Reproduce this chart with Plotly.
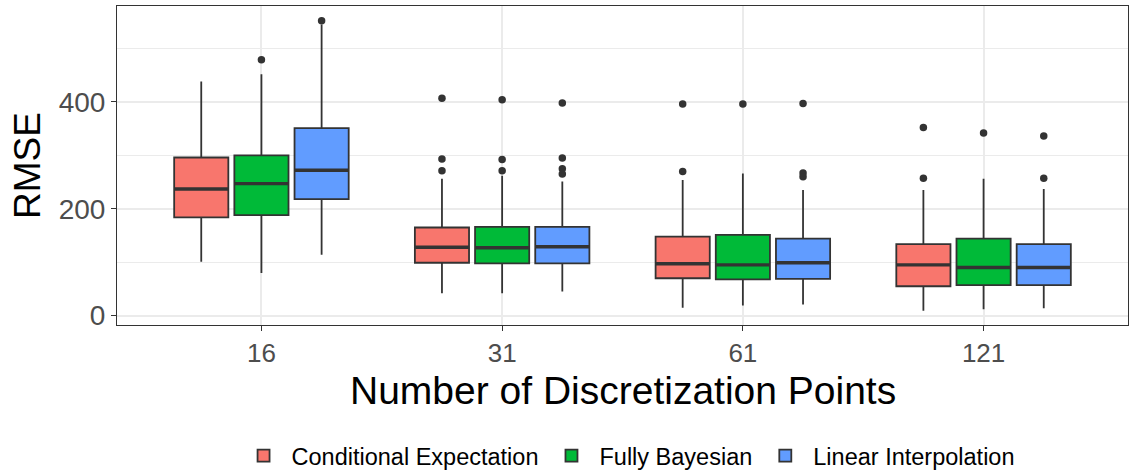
import plotly.graph_objects as go

# Number of discretization points (x categories)
categories = ["16", "31", "61", "121"]
methods = ["Conditional Expectation", "Fully Bayesian", "Linear Interpolation"]
colors = ["#F8766D", "#00BA38", "#619CFF"]
x_title = "Number of Discretization Points"
y_title = "RMSE"

# Box statistics per method, one entry per category
ce_low = [101, 42, 15, 9]
ce_q1 = [184, 99, 70, 55]
ce_med = [237, 128, 97, 95]
ce_q3 = [296, 165, 148, 134]
ce_high = [438, 256, 254, 235]
ce_out = [[], [407, 293, 271], [396, 270], [352, 257]]

fb_low = [80, 42, 19, 12]
fb_q1 = [188, 98, 68, 57]
fb_med = [247, 127, 95, 90]
fb_q3 = [300, 166, 151, 144]
fb_high = [452, 262, 266, 256]
fb_out = [[479], [404, 292, 271], [396], [342]]

li_low = [114, 45, 21, 14]
li_q1 = [218, 98, 69, 57]
li_med = [272, 129, 99, 90]
li_q3 = [351, 166, 144, 134]
li_high = [545, 251, 235, 237]
li_out = [[552], [398, 295, 275, 265], [397, 267, 260], [336, 257]]

stats = [
    (ce_low, ce_q1, ce_med, ce_q3, ce_high, ce_out),
    (fb_low, fb_q1, fb_med, fb_q3, fb_high, fb_out),
    (li_low, li_q1, li_med, li_q3, li_high, li_out),
]

dodge = 0.25
box_w = 0.225
edge = "#333333"

fig = go.Figure()
for k, (name, col, st) in enumerate(zip(methods, colors, stats)):
    low, q1, med, q3, high, out = st
    pos = [i + (k - 1) * dodge for i in range(len(categories))]
    fig.add_trace(go.Box(
        name=name, x=pos, q1=q1, median=med, q3=q3,
        lowerfence=low, upperfence=high,
        width=box_w, whiskerwidth=0, boxpoints=False,
        fillcolor=col, line=dict(color=edge, width=1.8),
        legendgroup=name,
    ))
    # thicker median bar
    mx, my = [], []
    for p, m in zip(pos, med):
        mx += [p - box_w / 2, p + box_w / 2, None]
        my += [m, m, None]
    fig.add_trace(go.Scatter(x=mx, y=my, mode="lines",
                             line=dict(color=edge, width=3.4),
                             showlegend=False, hoverinfo="skip",
                             legendgroup=name))
    # outliers
    ox, oy = [], []
    for p, vals in zip(pos, out):
        ox += [p] * len(vals)
        oy += vals
    fig.add_trace(go.Scatter(x=ox, y=oy, mode="markers",
                             marker=dict(color=edge, size=7.5),
                             showlegend=False, legendgroup=name))

fig.update_layout(
    width=1130, height=471,
    margin=dict(l=117, r=2, t=6, b=146, autoexpand=False),
    paper_bgcolor="white", plot_bgcolor="white",
    font=dict(family="Liberation Sans, Arial, sans-serif", color="black"),
    showlegend=True,
    legend=dict(orientation="h", x=0.505, xanchor="center",
                yref="container", y=0.032, yanchor="middle",
                font=dict(size=23.5, color="black"), itemwidth=46,
                traceorder="normal"),
    annotations=[dict(text=x_title, xref="paper", yref="paper",
                      x=0.5, y=-0.204, xanchor="center", yanchor="middle",
                      showarrow=False, font=dict(size=39, color="black"))],
)
fig.update_xaxes(
    range=[-0.6, 3.6], tickmode="array",
    tickvals=list(range(len(categories))), ticktext=categories,
    showgrid=True, gridcolor="#EBEBEB", gridwidth=1.5,
    zeroline=False, showline=True, mirror=True, linecolor=edge, linewidth=1,
    ticks="outside", ticklen=5, tickcolor=edge, tickwidth=1,
    tickfont=dict(size=26, color="#4D4D4D"),
)
fig.update_yaxes(
    range=[-17.5, 579.5], tickmode="array", tickvals=[0, 200, 400],
    showgrid=True, gridcolor="#EBEBEB", gridwidth=1.5,
    minor=dict(tickmode="array", tickvals=[100, 300, 500], showgrid=True,
               gridcolor="#EBEBEB", gridwidth=1, ticks=""),
    zeroline=False, showline=True, mirror=True, linecolor=edge, linewidth=1,
    ticks="outside", ticklen=5, tickcolor=edge, tickwidth=1,
    tickfont=dict(size=28, color="#4D4D4D"),
    title=dict(text=y_title, font=dict(size=37, color="black"), standoff=6),
)

fig.write_html("out.html")
